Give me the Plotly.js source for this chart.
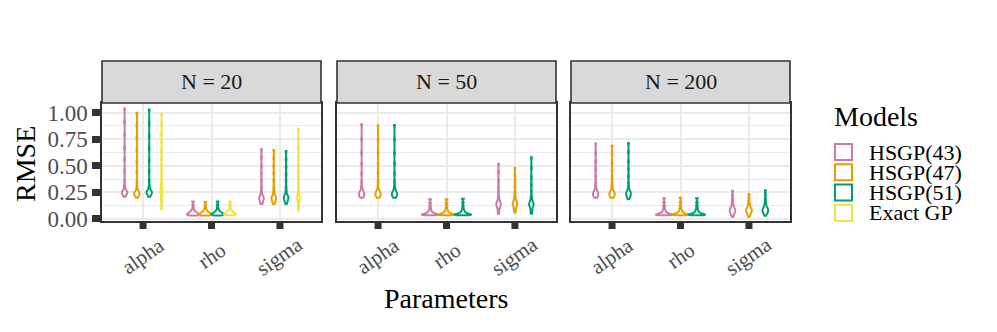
<!DOCTYPE html>
<html>
<head>
<meta charset="utf-8">
<script src="https://cdn.plot.ly/plotly-3.0.1.min.js"></script>
<style>
  html, body { margin: 0; padding: 0; background: #fff; }
  #chart { width: 997px; height: 332px; }
</style>
</head>
<body>
<div id="chart"></div>
<script>
const panels = ['N = 20', 'N = 50', 'N = 200'];
const params = ['alpha', 'rho', 'sigma'];
const models = ['HSGP(43)', 'HSGP(47)', 'HSGP(51)', 'Exact GP'];
const modelColors = ['#CC79A7', '#E69F00', '#009E73', '#F0E442'];

// RMSE draws, one list per model (Exact GP only for N = 20)
const n20Alpha = [
  [0.21, 0.225, 0.23, 0.24, 0.24, 0.25, 0.25, 0.25, 0.26, 0.26, 0.27, 0.285, 0.31, 0.36, 0.45, 0.56, 0.67, 0.79, 0.91, 1.04],
  [0.20, 0.215, 0.22, 0.23, 0.23, 0.24, 0.24, 0.24, 0.25, 0.25, 0.26, 0.275, 0.30, 0.35, 0.44, 0.54, 0.65, 0.76, 0.88, 1.00],
  [0.21, 0.22, 0.23, 0.24, 0.24, 0.25, 0.25, 0.25, 0.26, 0.26, 0.27, 0.285, 0.31, 0.36, 0.45, 0.55, 0.66, 0.78, 0.90, 1.03],
  [0.09, 0.13, 0.17, 0.20, 0.22, 0.24, 0.25, 0.27, 0.29, 0.31, 0.34, 0.38, 0.43, 0.49, 0.56, 0.64, 0.72, 0.80, 0.89, 0.99]
];
const n20Rho = [
  [0.033, 0.035, 0.037, 0.039, 0.041, 0.043, 0.045, 0.047, 0.049, 0.051, 0.054, 0.056, 0.060, 0.063, 0.067, 0.072, 0.079, 0.088, 0.105, 0.130, 0.165],
  [0.033, 0.035, 0.037, 0.039, 0.041, 0.043, 0.045, 0.047, 0.049, 0.051, 0.054, 0.056, 0.060, 0.063, 0.067, 0.072, 0.079, 0.088, 0.103, 0.127, 0.160],
  [0.033, 0.035, 0.037, 0.039, 0.041, 0.043, 0.045, 0.047, 0.049, 0.051, 0.053, 0.056, 0.059, 0.063, 0.067, 0.072, 0.079, 0.088, 0.105, 0.130, 0.165],
  [0.034, 0.036, 0.038, 0.040, 0.042, 0.044, 0.046, 0.048, 0.050, 0.052, 0.055, 0.058, 0.062, 0.065, 0.069, 0.074, 0.081, 0.090, 0.107, 0.132, 0.165]
];
const n20Sigma = [
  [0.14, 0.15, 0.16, 0.17, 0.18, 0.185, 0.19, 0.195, 0.20, 0.205, 0.21, 0.22, 0.235, 0.26, 0.30, 0.36, 0.43, 0.50, 0.58, 0.655],
  [0.14, 0.15, 0.16, 0.17, 0.18, 0.185, 0.19, 0.195, 0.20, 0.205, 0.21, 0.22, 0.235, 0.26, 0.30, 0.36, 0.43, 0.50, 0.57, 0.65],
  [0.14, 0.155, 0.165, 0.175, 0.185, 0.19, 0.195, 0.20, 0.205, 0.21, 0.215, 0.225, 0.24, 0.265, 0.30, 0.36, 0.42, 0.49, 0.56, 0.64],
  [0.08, 0.11, 0.14, 0.16, 0.18, 0.19, 0.20, 0.21, 0.22, 0.24, 0.26, 0.29, 0.33, 0.38, 0.44, 0.51, 0.59, 0.67, 0.76, 0.85]
];

const n50Alpha = [
  [0.20, 0.21, 0.215, 0.22, 0.225, 0.23, 0.235, 0.24, 0.245, 0.25, 0.255, 0.265, 0.28, 0.30, 0.35, 0.43, 0.52, 0.62, 0.75, 0.89],
  [0.20, 0.21, 0.215, 0.22, 0.225, 0.23, 0.235, 0.24, 0.245, 0.25, 0.255, 0.265, 0.28, 0.30, 0.35, 0.43, 0.52, 0.62, 0.74, 0.88],
  [0.20, 0.21, 0.215, 0.22, 0.225, 0.23, 0.235, 0.24, 0.245, 0.25, 0.255, 0.265, 0.28, 0.30, 0.35, 0.43, 0.52, 0.62, 0.75, 0.885]
];
const n50Rho = [
  [0.035, 0.036, 0.037, 0.038, 0.039, 0.040, 0.041, 0.042, 0.044, 0.045, 0.047, 0.049, 0.051, 0.054, 0.057, 0.061, 0.066, 0.072, 0.080, 0.090, 0.105, 0.125, 0.150, 0.185],
  [0.035, 0.036, 0.037, 0.038, 0.039, 0.040, 0.041, 0.042, 0.044, 0.045, 0.047, 0.049, 0.051, 0.054, 0.057, 0.061, 0.066, 0.072, 0.080, 0.090, 0.105, 0.125, 0.150, 0.185],
  [0.035, 0.036, 0.037, 0.038, 0.039, 0.040, 0.041, 0.042, 0.044, 0.045, 0.047, 0.049, 0.051, 0.054, 0.057, 0.061, 0.066, 0.072, 0.080, 0.090, 0.105, 0.125, 0.155, 0.190]
];
const n50Sigma = [
  [0.05, 0.07, 0.09, 0.105, 0.115, 0.125, 0.13, 0.135, 0.14, 0.145, 0.15, 0.16, 0.17, 0.185, 0.21, 0.25, 0.30, 0.36, 0.44, 0.52],
  [0.06, 0.08, 0.095, 0.11, 0.12, 0.13, 0.135, 0.14, 0.145, 0.15, 0.155, 0.165, 0.175, 0.19, 0.215, 0.25, 0.30, 0.35, 0.41, 0.48],
  [0.05, 0.07, 0.09, 0.105, 0.115, 0.125, 0.13, 0.135, 0.14, 0.145, 0.15, 0.16, 0.17, 0.185, 0.21, 0.26, 0.32, 0.39, 0.48, 0.58]
];

const n200Alpha = [
  [0.20, 0.21, 0.215, 0.22, 0.225, 0.23, 0.235, 0.24, 0.245, 0.25, 0.255, 0.265, 0.28, 0.30, 0.34, 0.40, 0.47, 0.54, 0.62, 0.71],
  [0.20, 0.21, 0.215, 0.22, 0.225, 0.23, 0.235, 0.24, 0.245, 0.25, 0.255, 0.265, 0.28, 0.30, 0.34, 0.39, 0.46, 0.53, 0.61, 0.69],
  [0.185, 0.20, 0.21, 0.215, 0.22, 0.23, 0.235, 0.24, 0.245, 0.25, 0.255, 0.265, 0.28, 0.30, 0.34, 0.40, 0.47, 0.54, 0.63, 0.715]
];
const n200Rho = [
  [0.035, 0.036, 0.037, 0.038, 0.039, 0.040, 0.041, 0.042, 0.044, 0.045, 0.047, 0.049, 0.051, 0.054, 0.057, 0.061, 0.066, 0.072, 0.080, 0.090, 0.105, 0.125, 0.155, 0.195],
  [0.035, 0.036, 0.037, 0.038, 0.039, 0.040, 0.041, 0.042, 0.044, 0.045, 0.047, 0.049, 0.051, 0.054, 0.057, 0.061, 0.066, 0.072, 0.080, 0.090, 0.105, 0.125, 0.160, 0.200],
  [0.035, 0.036, 0.037, 0.038, 0.039, 0.040, 0.041, 0.042, 0.044, 0.045, 0.047, 0.049, 0.051, 0.054, 0.057, 0.061, 0.066, 0.072, 0.080, 0.090, 0.105, 0.125, 0.155, 0.195]
];
const n200Sigma = [
  [0.02, 0.035, 0.045, 0.055, 0.06, 0.065, 0.07, 0.075, 0.08, 0.085, 0.09, 0.095, 0.10, 0.11, 0.12, 0.135, 0.155, 0.18, 0.22, 0.265],
  [0.02, 0.035, 0.045, 0.055, 0.06, 0.065, 0.07, 0.075, 0.08, 0.085, 0.09, 0.095, 0.10, 0.105, 0.115, 0.13, 0.145, 0.165, 0.20, 0.235],
  [0.03, 0.045, 0.055, 0.06, 0.065, 0.07, 0.075, 0.08, 0.085, 0.09, 0.095, 0.10, 0.105, 0.115, 0.125, 0.14, 0.16, 0.19, 0.23, 0.27]
];

// kernel bandwidth per parameter (alpha, rho, sigma)
const n20Bandwidth = [0.015, 0.007, 0.015];
const n50Bandwidth = [0.015, 0.0055, 0.015];
const n200Bandwidth = [0.015, 0.0055, 0.012];

const panelSamples = [
  [n20Alpha, n20Rho, n20Sigma],
  [n50Alpha, n50Rho, n50Sigma],
  [n200Alpha, n200Rho, n200Sigma]
];
const panelBandwidth = [n20Bandwidth, n50Bandwidth, n200Bandwidth];

const W = 997, H = 332;
const px = v => v / W;
const py = v => (H - v) / H;

const xDomains = [[px(102), px(321)], [px(337), px(556)], [px(571), px(790)]];
const yDomain = [py(221), py(103)];
const serif = 'Liberation Serif, Times New Roman, serif';

const traces = [];
panels.forEach((panel, p) => {
  const suffix = p === 0 ? '' : String(p + 1);
  models.forEach((model, m) => {
    params.forEach((param, k) => {
      const vals = panelSamples[p][k][m];
      if (!vals) return;
      traces.push({
        type: 'violin',
        x: vals.map(() => param),
        y: vals,
        xaxis: 'x' + suffix,
        yaxis: 'y' + suffix,
        name: model,
        offsetgroup: model,
        alignmentgroup: 'panel' + p,
        scalegroup: 'panel' + p,
        scalemode: 'width',
        spanmode: 'hard',
        bandwidth: panelBandwidth[p][k],
        points: false,
        box: { visible: false },
        meanline: { visible: false },
        line: { color: modelColors[m], width: 2 },
        fillcolor: '#ffffff',
        hoverinfo: 'skip',
        showlegend: false
      });
    });
  });
});

const layout = {
  width: W,
  height: H,
  margin: { l: 0, r: 0, t: 0, b: 0 },
  paper_bgcolor: '#ffffff',
  plot_bgcolor: '#ffffff',
  font: { family: serif, color: '#000000' },
  showlegend: false,
  violinmode: 'group',
  violingap: 0.28,
  violingroupgap: 0,
  shapes: [],
  annotations: []
};

panels.forEach((panel, p) => {
  const suffix = p === 0 ? '' : String(p + 1);
  layout['xaxis' + suffix] = {
    domain: xDomains[p],
    anchor: 'y' + suffix,
    type: 'category',
    categoryorder: 'array',
    categoryarray: params,
    range: [-0.6, 2.6],
    tickmode: 'array',
    tickvals: params,
    ticktext: params,
    showgrid: true,
    gridcolor: '#ebebeb',
    gridwidth: 2,
    zeroline: false,
    showline: true,
    linecolor: '#333333',
    linewidth: 1.6,
    mirror: true,
    ticks: '',
    showticklabels: false,
    fixedrange: true
  };
  layout['yaxis' + suffix] = {
    domain: yDomain,
    anchor: 'x' + suffix,
    range: [-0.019, 1.091],
    tickmode: 'linear',
    tick0: 0,
    dtick: 0.25,
    tickformat: '.2f',
    showgrid: true,
    gridcolor: '#ebebeb',
    gridwidth: 2,
    minor: { tickmode: 'linear', tick0: 0, dtick: 0.125, showgrid: true, gridcolor: '#ebebeb', gridwidth: 1 },
    zeroline: false,
    showline: true,
    linecolor: '#333333',
    linewidth: 1.6,
    mirror: true,
    ticks: p === 0 ? 'outside' : '',
    ticklen: 8,
    tickwidth: 7,
    tickcolor: '#333333',
    showticklabels: p === 0,
    tickfont: { family: serif, size: 23, color: '#4d4d4d' },
    fixedrange: true
  };

  // facet strip
  layout.shapes.push({
    type: 'rect', xref: 'paper', yref: 'paper',
    x0: xDomains[p][0], x1: xDomains[p][1], y0: yDomain[1], y1: py(61),
    fillcolor: '#d9d9d9', line: { color: '#333333', width: 1.6 }
  });
  layout.annotations.push({
    xref: 'paper', yref: 'paper',
    x: (xDomains[p][0] + xDomains[p][1]) / 2, y: py(82),
    text: panel, showarrow: false,
    font: { family: serif, size: 22, color: '#1a1a1a' },
    xanchor: 'center', yanchor: 'middle'
  });

  params.forEach((param, k) => {
    // category tick mark below the panel, placed on the panel's x axis
    layout.shapes.push({
      type: 'line', xref: 'x' + suffix, yref: 'paper',
      x0: k, x1: k, y0: py(221), y1: py(229),
      line: { color: '#333333', width: 7 }
    });
    // rotated category label
    layout.annotations.push({
      xref: 'x' + suffix, yref: 'paper',
      x: k, y: py(256),
      text: param, showarrow: false, textangle: -35,
      font: { family: serif, size: 21, color: '#4d4d4d' },
      xanchor: 'center', yanchor: 'middle'
    });
  });
});

// axis titles
layout.annotations.push({
  xref: 'paper', yref: 'paper', x: px(25), y: py(164),
  text: 'RMSE', showarrow: false, textangle: -90,
  font: { family: serif, size: 28, color: '#000000' },
  xanchor: 'center', yanchor: 'middle'
});
layout.annotations.push({
  xref: 'paper', yref: 'paper', x: px(446), y: py(298),
  text: 'Parameters', showarrow: false,
  font: { family: serif, size: 28, color: '#000000' },
  xanchor: 'center', yanchor: 'middle'
});

// legend
layout.annotations.push({
  xref: 'paper', yref: 'paper', x: px(832), y: py(116),
  text: 'Models', showarrow: false,
  font: { family: serif, size: 28, color: '#000000' },
  xanchor: 'left', yanchor: 'middle'
});
models.forEach((model, m) => {
  const cy = 152 + m * 20.3;
  layout.shapes.push({
    type: 'rect', xref: 'paper', yref: 'paper',
    x0: px(835), x1: px(852), y0: py(cy + 8), y1: py(cy - 8),
    fillcolor: '#ffffff', line: { color: modelColors[m], width: 2 }
  });
  layout.annotations.push({
    xref: 'paper', yref: 'paper', x: px(867), y: py(cy),
    text: model, showarrow: false,
    font: { family: serif, size: 22, color: '#000000' },
    xanchor: 'left', yanchor: 'middle'
  });
});

Plotly.newPlot('chart', traces, layout, { displayModeBar: false, staticPlot: true });
</script>
</body>
</html>
